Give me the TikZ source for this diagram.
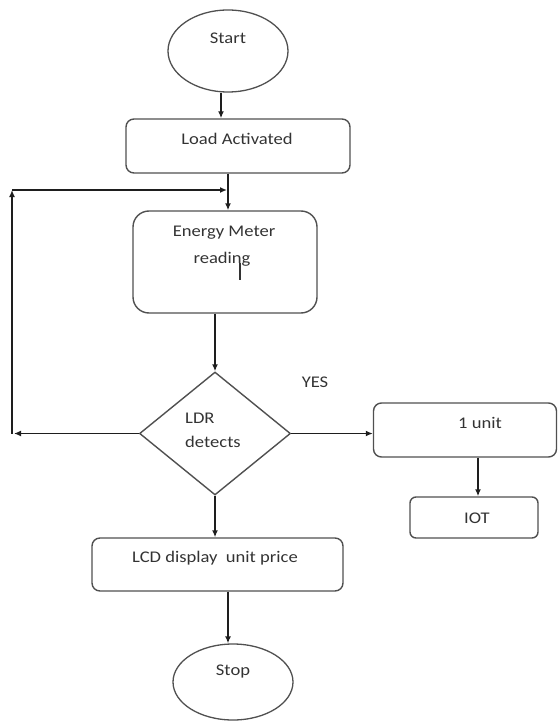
\documentclass[tikz,border=0pt]{standalone}
\usepackage{fontspec}
\setmainfont{Carlito}[FakeStretch=1.14]
\usetikzlibrary{shapes.geometric,arrows.meta}
\definecolor{txt}{HTML}{333333}
\definecolor{edge}{HTML}{505050}
\definecolor{wire}{HTML}{1E1E1E}
\tikzset{
  boxshape/.style={draw=edge,line width=1.4pt,rounded corners=8pt,inner sep=0pt},
  ovalshape/.style={ellipse,draw=edge,line width=1.3pt,inner sep=0pt},
  decshape/.style={diamond,draw=edge,line width=1.4pt,inner sep=0pt},
  lbl/.style={text=txt,font=\fontsize{16.3}{19}\selectfont,inner sep=0pt},
  arr/.style={draw=wire,line width=1.4pt,-{Latex[length=7pt,width=6pt]}},
}
\begin{document}
\begin{tikzpicture}[x=1pt,y=-1pt]
\useasboundingbox (0,0) rectangle (559,722);
% shapes
\node[ovalshape,minimum width=120pt,minimum height=82pt] (start) at (228,51) {};
\node[boxshape,minimum width=224pt,minimum height=54pt] (load) at (238,146) {};
\node[boxshape,rounded corners=16pt,minimum width=184pt,minimum height=102pt] (meter) at (225,262) {};
\node[decshape,minimum width=151pt,minimum height=123pt] (dec) at (215,433.5) {};
\node[boxshape,minimum width=183pt,minimum height=54pt] (unit) at (465,430) {};
\node[boxshape,rounded corners=6pt,minimum width=128pt,minimum height=41pt] (iot) at (474,517.5) {};
\node[boxshape,minimum width=251pt,minimum height=53pt] (lcd) at (217.5,564.5) {};
\node[ovalshape,minimum width=120pt,minimum height=76pt] (stop) at (233,682) {};
% texts
\node[lbl] (startT) at (228,38) {Start};
\node[lbl] (loadT) at (237,139) {Load Activated};
\node[lbl] (meterT1) at (224,233) {Energy Meter};
\node[lbl] (meterT2) at (222,259) {reading};
\node[lbl,anchor=west] (decT1) at (185,418) {LDR};
\node[lbl,anchor=west] (decT2) at (185,442) {detects};
\node[lbl] (yesT) at (315,382) {YES};
\node[lbl] (unitT) at (480,423) {1 unit};
\node[lbl] (iotT) at (477,518) {IOT};
\node[lbl] (lcdT) at (215,558) {LCD display\ \ unit price};
\node[lbl] (stopT) at (233,672) {Stop};
% text cursor mark
\coordinate (curA) at (240,263);
\coordinate (curB) at (240,280);
\draw[txt,line width=1.4pt] (curA) -- (curB);
% loop coordinates
\coordinate (L1) at (14,433.5);
\coordinate (L2) at (12,190);
\coordinate (J) at (228,190);
% connectors
\draw[arr] ([xshift=-7pt]start.south) -- ([xshift=-7pt]start.south |- load.north);
\draw[arr] ([xshift=-10pt]load.south) -- ([xshift=-10pt]load.south |- meter.north);
\draw[arr] ([xshift=-10pt]meter.south) -- (dec.north);
\draw[arr] (dec.west) -- (L1);
\draw[arr] (L1 -| L2) -- (L2);
\draw[arr] (L2) -- ([xshift=-1pt]J);
\draw[arr] (dec.east) -- (dec.east -| unit.west);
\draw[arr] ([xshift=13pt]unit.south) -- ([xshift=13pt]unit.south |- iot.north);
\draw[arr] (dec.south) -- (dec.south |- lcd.north);
\draw[arr] ([xshift=10.5pt]lcd.south) -- ([xshift=10.5pt]lcd.south |- stop.north);
\end{tikzpicture}
\end{document}
